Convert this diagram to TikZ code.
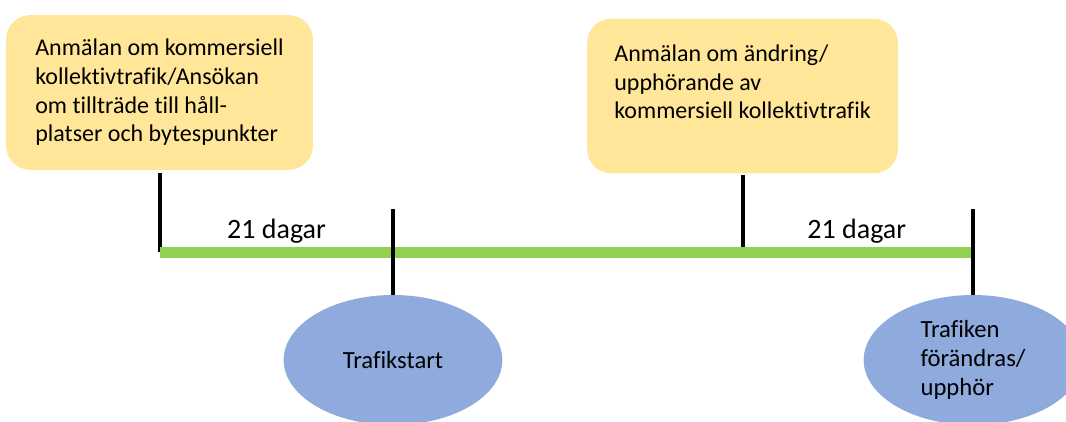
\documentclass[tikz,border=0pt]{standalone}
\usepackage{fontspec}
\setmainfont{Carlito}[Ligatures=NoCommon]
\usetikzlibrary{shapes,positioning}

\definecolor{gul}{HTML}{FFE699}
\definecolor{gron}{HTML}{92D050}
\definecolor{bla}{HTML}{8FAADC}

\begin{document}
\begin{tikzpicture}[
    x=0.75pt, y=-0.75pt,
    every node/.style={font=\fontsize{18}{21.5}\selectfont},
    anmalan/.style={rectangle, rounded corners=18pt, fill=gul, minimum width=230pt, minimum height=116pt, align=left},
    handelse/.style={ellipse, fill=bla, minimum width=164pt, minimum height=97.5pt, inner sep=0pt, align=left, font=\fontsize{18.5}{22}\selectfont},
    tidslinje/.style={line width=8.25pt, draw=gron},
    markering/.style={line width=3pt, draw=black},
    dagar/.style={font=\fontsize{21}{25}\selectfont, inner sep=0pt, above=6pt}
]
\useasboundingbox (0,0) rectangle (1066,421);
\clip (0,0) rectangle (1066,421);

% RUTOR
\node[anmalan] (anmalan) at (159.5,92.5) {Anmälan om kommersiell\\kollektivtrafik/Ansökan\\om tillträde till håll-\\platser och bytespunkter};
\node[anmalan, minimum width=233pt] (andring) at (742.5,96) {Anmälan om ändring/\\upphörande av\\kommersiell kollektivtrafik\\ \mbox{}};

% HANDELSER
\node[handelse] (trafikstart) at (393,360) {Trafikstart};
\node[handelse] (forandras) at (973,360) {Trafiken\\förändras/\\upphör};

% TIDSLINJE
\coordinate (start) at (160,252);
\coordinate (slut) at (971,252);
\draw[markering] ([yshift=-2pt]anmalan.south) -- (anmalan.south |- start);
\draw[markering] ([yshift=-1pt]andring.south) -- (andring.south |- start);
\draw[tidslinje] (start) -- (slut);
\draw[markering] (trafikstart.north) -- ++(0,-86);
\draw[markering] (forandras.north) -- ++(0,-86);

% DAGAR
\path (start) -- node[dagar]{21 dagar} (start -| trafikstart);
\path (start -| andring) -- node[dagar]{21 dagar} (slut);

\end{tikzpicture}
\end{document}
